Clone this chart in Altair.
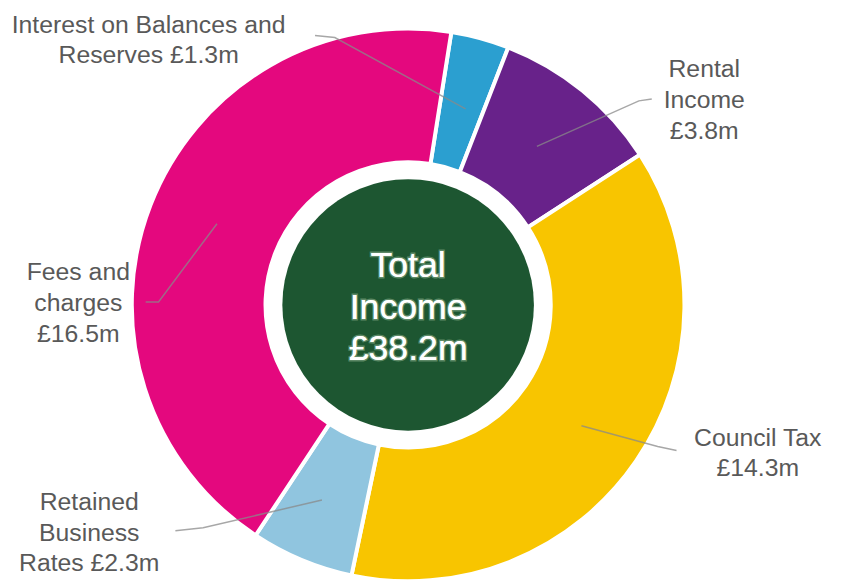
import math
import altair as alt
import pandas as pd

# ---- data ----
categories = [
    "Interest on Balances and Reserves",
    "Rental Income",
    "Council Tax",
    "Retained Business Rates",
    "Fees and charges",
]
values = [1.3, 3.8, 14.3, 2.3, 16.5]
label_text = [
    "Interest on Balances and\nReserves £1.3m",
    "Rental\nIncome\n£3.8m",
    "Council Tax\n£14.3m",
    "Retained\nBusiness\nRates £2.3m",
    "Fees and\ncharges\n£16.5m",
]
center_text = "Total\nIncome\n£38.2m"

# ---- styling / layout (page coordinates) ----
colors = ["#2b9fd0", "#68228a", "#f8c500", "#90c5df", "#e4087e"]
green = "#1d5631"
label_x = [150, 711, 765, 90, 79]
label_y = [30, 75, 447, 512, 280]
leader_pts = [
    [(318, 33), (338, 35), (470, 107)],
    [(658, 97), (645, 99), (542, 145)],
    [(683, 452), (664, 448), (587, 427)],
    [(177, 533), (205, 530), (325, 502)],
    [(147, 302), (160, 302), (219, 223)],
]
CX, CY = 412, 305
start = math.radians(9)

W, H = 834, 575
xs = alt.Scale(domain=[8, 8 + W], range=[0, W])
ys = alt.Scale(domain=[8, 8 + H], range=[0, H])

slices = pd.DataFrame({"category": categories, "value": values, "order": list(range(len(values)))})
labels = pd.DataFrame({"text": label_text, "x": label_x, "y": label_y})
leaders = pd.DataFrame(
    [{"label": categories[i], "idx": j, "x": p[0], "y": p[1]}
     for i, pts in enumerate(leader_pts) for j, p in enumerate(pts)]
)
centre = pd.DataFrame({"text": [center_text], "x": [CX], "y": [277]})

arcs = alt.Chart(slices).mark_arc(
    innerRadius=144, outerRadius=279, stroke="white", strokeWidth=4
).encode(
    theta=alt.Theta("value:Q", stack=True, scale=alt.Scale(range=[start, start + 2 * math.pi])),
    color=alt.Color("category:N", scale=alt.Scale(domain=categories, range=colors), legend=None),
    order=alt.Order("order:Q"),
    x=alt.value(CX - 8),
    y=alt.value(CY - 8),
)

hole = alt.Chart(pd.DataFrame({"v": [0]})).mark_circle(
    size=(2 * 127) ** 2, color=green, opacity=1
).encode(x=alt.value(CX - 8), y=alt.value(CY - 8))

lines = alt.Chart(leaders).mark_line(stroke="#8a8a8a", strokeWidth=1.5, opacity=0.75).encode(
    x=alt.X("x:Q", scale=xs, axis=None),
    y=alt.Y("y:Q", scale=ys, axis=None),
    detail="label:N",
    order="idx:Q",
)

text = alt.Chart(labels).mark_text(
    align="center", baseline="alphabetic", lineBreak="\n", lineHeight=31,
    fontSize=25, font="Liberation Sans", color="#595959"
).encode(
    x=alt.X("x:Q", scale=xs, axis=None),
    y=alt.Y("y:Q", scale=ys, axis=None),
    text="text:N",
)

glow = alt.Chart(centre).mark_text(
    align="center", baseline="alphabetic", lineBreak="\n", lineHeight=42,
    fontSize=36, font="Liberation Sans", color="white",
    stroke="#d8ecd0", strokeWidth=3, strokeOpacity=0.35
).encode(
    x=alt.X("x:Q", scale=xs, axis=None),
    y=alt.Y("y:Q", scale=ys, axis=None),
    text="text:N",
)
ctext = alt.Chart(centre).mark_text(
    align="center", baseline="alphabetic", lineBreak="\n", lineHeight=42,
    fontSize=36, font="Liberation Sans", color="white"
).encode(
    x=alt.X("x:Q", scale=xs, axis=None),
    y=alt.Y("y:Q", scale=ys, axis=None),
    text="text:N",
)

chart = alt.layer(arcs, hole, lines, text, glow, ctext).properties(
    width=W, height=H, padding=0, autosize="none", background="white"
).configure_view(stroke=None)

chart.save("out.html", embed_options={"renderer": "svg", "actions": False})
